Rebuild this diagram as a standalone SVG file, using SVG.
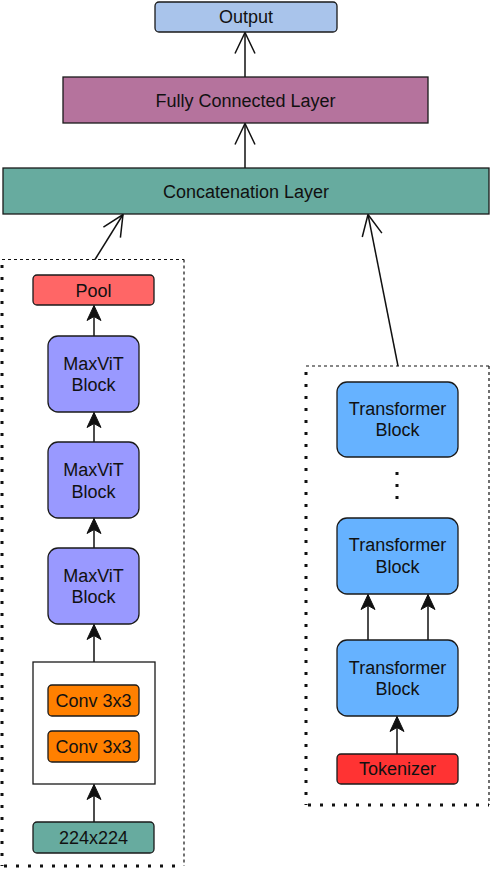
<svg xmlns="http://www.w3.org/2000/svg" width="492" height="870" viewBox="0 0 492 870">
<style>
.box{stroke:#1a1a1a;stroke-width:1.3}
.t{font-family:"Liberation Sans",Arial,sans-serif;font-size:18px;fill:#111;text-anchor:middle}
.c{stroke:#111;stroke-width:1.5;fill:none}
.dash{stroke:#111;stroke-width:1.2;stroke-dasharray:3 3;fill:none}
.dot{stroke:#111;stroke-width:3;stroke-dasharray:3 9;fill:none}
</style>
<defs>
<marker id="open" markerUnits="userSpaceOnUse" viewBox="-24 -12 26 24" refX="0" refY="0" markerWidth="26" markerHeight="24" orient="auto">
<path d="M-21,-10 L0,0 L-21,10" fill="none" stroke="#111" stroke-width="1.5"/>
</marker>
<marker id="block" markerUnits="userSpaceOnUse" viewBox="-16 -9 18 18" refX="0" refY="0" markerWidth="18" markerHeight="18" orient="auto">
<path d="M0,0 L-15,-7 L-11,0 L-15,7 Z" fill="#111" stroke="#111" stroke-width="1"/>
</marker>
</defs>
<rect width="492" height="870" fill="#fff"/>

<g id="groups">
<g id="cnn-group">
<line class="dash" x1="2" y1="259.5" x2="184" y2="259.5"/>
<line class="dash" x1="184" y1="259.5" x2="184" y2="866"/>
<line class="dot" x1="2" y1="265" x2="2" y2="866"/>
<line class="dot" x1="4" y1="866" x2="184" y2="866"/>
</g>
<g id="transformer-group">
<line class="dash" x1="306" y1="366" x2="489" y2="366"/>
<line class="dash" x1="489" y1="366" x2="489" y2="805"/>
<line class="dot" x1="306" y1="372" x2="306" y2="805"/>
<line class="dot" x1="308" y1="805" x2="489" y2="805"/>
</g>
</g>

<g id="connectors">
<line class="c" x1="245" y1="77" x2="245" y2="32.5" marker-end="url(#open)"/>
<line class="c" x1="245" y1="168" x2="245" y2="123.5" marker-end="url(#open)"/>
<line class="c" x1="95" y1="259.5" x2="123" y2="214.5" marker-end="url(#open)"/>
<line class="c" x1="398" y1="366" x2="368" y2="214.5" marker-end="url(#open)"/>
<line class="c" x1="94" y1="336" x2="94" y2="305.5" marker-end="url(#block)"/>
<line class="c" x1="94" y1="442" x2="94" y2="412.5" marker-end="url(#block)"/>
<line class="c" x1="94" y1="548" x2="94" y2="518.5" marker-end="url(#block)"/>
<line class="c" x1="94" y1="662" x2="94" y2="624.5" marker-end="url(#block)"/>
<line class="c" x1="94" y1="822" x2="94" y2="784.5" marker-end="url(#block)"/>
<line class="c" x1="368" y1="640" x2="368" y2="594.5" marker-end="url(#block)"/>
<line class="c" x1="428" y1="640" x2="428" y2="594.5" marker-end="url(#block)"/>
<line class="c" x1="397" y1="754" x2="397" y2="716.5" marker-end="url(#block)"/>
</g>

<g id="output"><rect class="box" x="155" y="2" width="182" height="30" rx="4" fill="#A9C4EB"/><text class="t" x="246" y="23">Output</text></g>
<g id="fc"><rect class="box" x="63" y="77" width="365" height="46" fill="#B5739D"/><text class="t" x="245.5" y="107">Fully Connected Layer</text></g>
<g id="concat"><rect class="box" x="3" y="168" width="486" height="46" fill="#67AB9F"/><text class="t" x="246" y="198">Concatenation Layer</text></g>

<g id="pool"><rect class="box" x="33" y="275" width="121" height="30" rx="4" fill="#FF6666"/><text class="t" x="93.5" y="296.5">Pool</text></g>
<g id="maxvit1"><rect class="box" x="48" y="336" width="91" height="76" rx="10" fill="#9999FF"/><text class="t" x="93.5" y="369.5">MaxViT</text><text class="t" x="93.5" y="391">Block</text></g>
<g id="maxvit2"><rect class="box" x="48" y="442" width="91" height="76" rx="10" fill="#9999FF"/><text class="t" x="93.5" y="476">MaxViT</text><text class="t" x="93.5" y="497.5">Block</text></g>
<g id="maxvit3"><rect class="box" x="48" y="548" width="91" height="76" rx="10" fill="#9999FF"/><text class="t" x="93.5" y="581.5">MaxViT</text><text class="t" x="93.5" y="603">Block</text></g>
<g id="stem"><rect class="box" x="33" y="662" width="122" height="122" fill="#fff"/></g>
<g id="conv1"><rect class="box" x="48" y="685" width="91" height="31" rx="4" fill="#FF8000"/><text class="t" x="93.5" y="707">Conv 3x3</text></g>
<g id="conv2"><rect class="box" x="48" y="731" width="91" height="31" rx="4" fill="#FF8000"/><text class="t" x="93.5" y="752.5">Conv 3x3</text></g>
<g id="input"><rect class="box" x="33" y="822" width="121" height="31" rx="4" fill="#67AB9F"/><text class="t" x="93.5" y="843.5">224x224</text></g>

<g id="tblock1"><rect class="box" x="337" y="382" width="121" height="75" rx="10" fill="#66B2FF"/><text class="t" x="397.5" y="414.5">Transformer</text><text class="t" x="397.5" y="436">Block</text></g>
<g id="ellipsis"><rect x="395.5" y="472" width="3" height="3" fill="#111"/><rect x="395.5" y="484" width="3" height="3" fill="#111"/><rect x="395.5" y="496" width="3" height="3" fill="#111"/></g>
<g id="tblock2"><rect class="box" x="337" y="518" width="121" height="76" rx="10" fill="#66B2FF"/><text class="t" x="397.5" y="551">Transformer</text><text class="t" x="397.5" y="572.5">Block</text></g>
<g id="tblock3"><rect class="box" x="337" y="640" width="121" height="76" rx="10" fill="#66B2FF"/><text class="t" x="397.5" y="673.5">Transformer</text><text class="t" x="397.5" y="695">Block</text></g>
<g id="tokenizer"><rect class="box" x="337" y="754" width="121" height="30" rx="4" fill="#FF3333"/><text class="t" x="397.5" y="775">Tokenizer</text></g>
</svg>
